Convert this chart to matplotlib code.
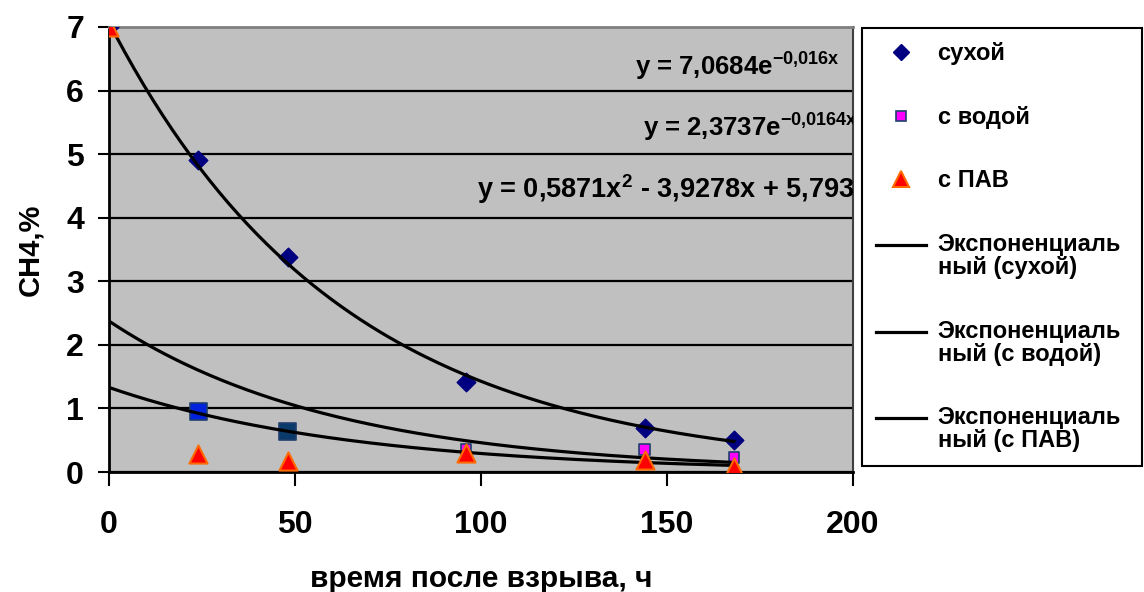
import numpy as np
import matplotlib
matplotlib.use('Agg')
import matplotlib.pyplot as plt
from matplotlib.lines import Line2D
from matplotlib.legend_handler import HandlerLine2D

plt.rcParams['font.family'] = ['Liberation Sans', 'DejaVu Sans']
plt.rcParams['font.weight'] = 'bold'
plt.rcParams['mathtext.fontset'] = 'custom'
plt.rcParams['mathtext.rm'] = 'Liberation Sans:bold'
plt.rcParams['mathtext.bf'] = 'Liberation Sans:bold'

# время после взрыва, ч
hours = [0, 24, 48, 96, 144, 168]
# концентрация CH4, %
dry = [7.0, 4.9, 3.38, 1.41, 0.69, 0.5]
water = [7.0, 0.95, 0.63, 0.35, 0.35, 0.23]
surfactant = [7.0, 0.28, 0.17, 0.3, 0.19, 0.08]

# коэффициенты линий тренда y = a*exp(b*x)
trend_dry = (7.0684, -0.016)
trend_water = (2.3737, -0.0164)
trend_surf = (1.33, -0.0152)

eq_texts = [r'y = 7,0684e$^{\mathbf{-0{,}016x}}$',
            r'y = 2,3737e$^{\mathbf{-0{,}0164x}}$',
            r'y = 0,5871x$^{\mathbf{2}}$ - 3,9278x + 5,7931']

legend_labels = ['сухой', 'с водой', 'с ПАВ',
                 'Экспоненциаль\nный (сухой)',
                 'Экспоненциаль\nный (с водой)',
                 'Экспоненциаль\nный (с ПАВ)']


class TopLineHandler(HandlerLine2D):
    # линия в легенде на уровне первой строки подписи
    def create_artists(self, legend, orig_handle, xdescent, ydescent,
                       width, height, fontsize, trans):
        arts = super().create_artists(legend, orig_handle, xdescent, ydescent,
                                      width, height, fontsize, trans)
        for a in arts:
            a.set_ydata(np.asarray(a.get_ydata()) + fontsize * 0.5)
        return arts


fig = plt.figure(figsize=(11.44, 5.92), dpi=100)
ax = fig.add_axes([0.0953, 0.2027, 0.6503, 0.7517])
ax.set_facecolor('#C0C0C0')

# точки
ax.scatter(hours, dry, marker='D', s=90, color='#000080', zorder=3)
water_fc = ['#FF00FF', '#0022DD', '#0A3A6A', '#FF00FF', '#FF00FF', '#FF00FF']
water_sz = [60, 150, 150, 60, 60, 60]
ax.scatter(hours, water, marker='s', s=water_sz, facecolors=water_fc,
           edgecolors='#1F3F6F', linewidths=1.2, zorder=3)
ax.scatter(hours, surfactant, marker='^', s=170, facecolors='#FF0000',
           edgecolors='#FF6A00', linewidths=1.5, zorder=5)

# линии тренда
xs = np.linspace(0, 168, 200)
for a, b in [trend_dry, trend_water, trend_surf]:
    ax.plot(xs, a * np.exp(b * xs), color='black', lw=2.3, zorder=4)

# уравнения
ax.text(141.5, 6.4, eq_texts[0], fontsize=18.5, fontweight='bold',
        va='center', ha='left', clip_on=True)
ax.text(143.5, 5.43, eq_texts[1], fontsize=18.5, fontweight='bold',
        va='center', ha='left', clip_on=True)
ax.text(99.0, 4.45, eq_texts[2], fontsize=19.5, fontweight='bold',
        va='center', ha='left', clip_on=True)

ax.set_xlim(0, 200)
ax.set_ylim(0, 7)
ax.set_xticks([0, 50, 100, 150, 200])
ax.set_yticks(range(8))
ax.yaxis.grid(True, color='black', lw=1.6)
ax.set_axisbelow(True)
ax.tick_params(axis='both', labelsize=23, width=1.5, color='black')
ax.tick_params(axis='x', length=10, pad=17)
ax.tick_params(axis='y', length=8, pad=10)
for lab in ax.get_xticklabels() + ax.get_yticklabels():
    lab.set_fontweight('bold')
ax.spines['left'].set_linewidth(2)
ax.spines['bottom'].set_linewidth(2)
ax.spines['top'].set_color('#808080')
ax.spines['top'].set_linewidth(2)
ax.spines['right'].set_color('#404040')
ax.spines['right'].set_linewidth(1.5)

ax.set_xlabel('время после взрыва, ч', fontsize=21.5, fontweight='bold', labelpad=18)
ax.set_ylabel('CH4,%', fontsize=21, fontweight='bold', labelpad=16)

handles = [
    Line2D([], [], ls='none', marker='D', ms=8, color='#000080'),
    Line2D([], [], ls='none', marker='s', ms=7, mfc='#FF00FF', mec='#1F3F6F', mew=1.2),
    Line2D([], [], ls='none', marker='^', ms=12, mfc='#FF0000', mec='#FF6A00', mew=1.5),
    Line2D([], [], color='black', lw=2.3),
    Line2D([], [], color='black', lw=2.3),
    Line2D([], [], color='black', lw=2.3),
]
leg = fig.legend(handles, legend_labels, loc='upper left',
                 bbox_to_anchor=(0.7535, 0.2145, 0.2445, 0.7382), mode='expand',
                 prop={'size': 17, 'weight': 'bold'}, frameon=True, fancybox=False,
                 edgecolor='black', framealpha=1, borderpad=0.6, labelspacing=1.72,
                 handlelength=2.1, handletextpad=0.5, borderaxespad=0,
                 handler_map={handles[3]: TopLineHandler(),
                              handles[4]: TopLineHandler(),
                              handles[5]: TopLineHandler()})
leg.get_frame().set_linewidth(1.5)
for t in leg.get_texts():
    t.set_linespacing(1.0)

fig.savefig('out.png', dpi=100)
